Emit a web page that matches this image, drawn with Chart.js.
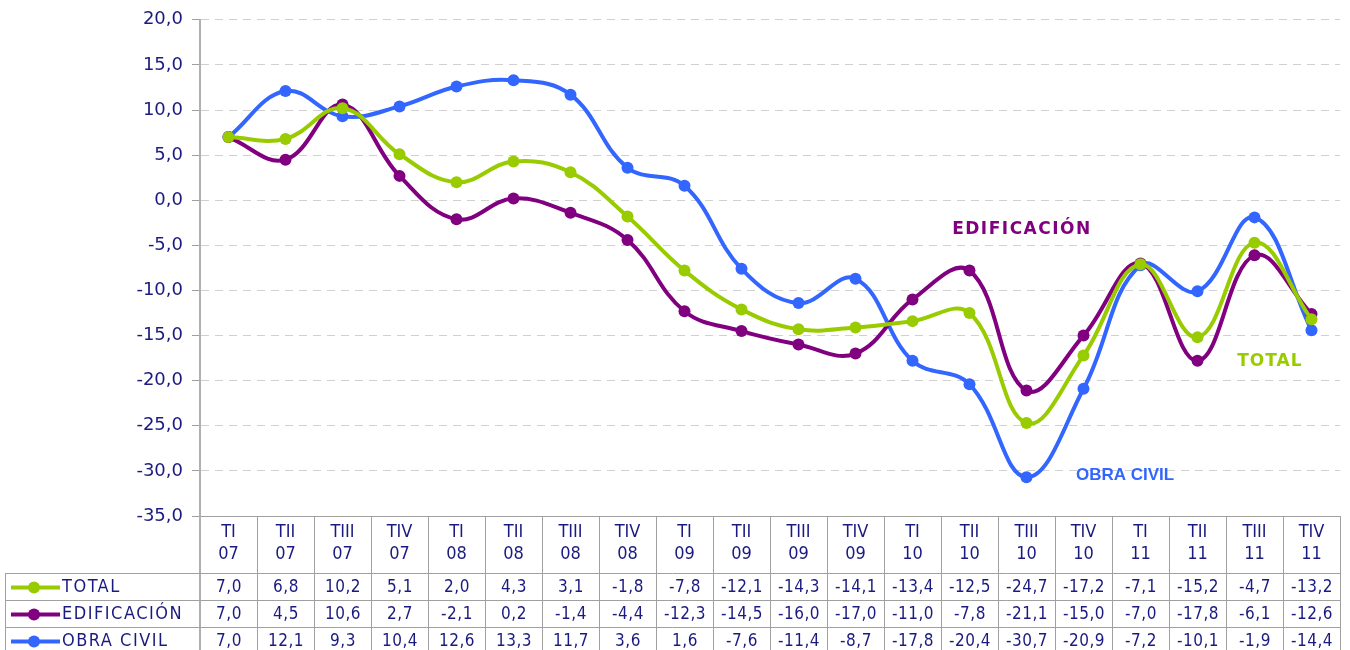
<!DOCTYPE html>
<html>
<head>
<meta charset="utf-8">
<script src="https://cdn.jsdelivr.net/npm/chart.js@4/dist/chart.umd.min.js"></script>
<style>
  html, body { margin: 0; padding: 0; background: #fff; }
  canvas { display: block; }
</style>
</head>
<body>
<canvas id="graficoLicitacion" width="1350" height="650"></canvas>
<script>
// datos (tasas de variación interanual)
var trimestres = [
  ['TI', '07'], ['TII', '07'], ['TIII', '07'], ['TIV', '07'],
  ['TI', '08'], ['TII', '08'], ['TIII', '08'], ['TIV', '08'],
  ['TI', '09'], ['TII', '09'], ['TIII', '09'], ['TIV', '09'],
  ['TI', '10'], ['TII', '10'], ['TIII', '10'], ['TIV', '10'],
  ['TI', '11'], ['TII', '11'], ['TIII', '11'], ['TIV', '11']
];
var total       = [7.0, 6.8, 10.2, 5.1, 2.0, 4.3, 3.1, -1.8, -7.8, -12.1, -14.3, -14.1, -13.4, -12.5, -24.7, -17.2, -7.1, -15.2, -4.7, -13.2];
var edificacion = [7.0, 4.5, 10.6, 2.7, -2.1, 0.2, -1.4, -4.4, -12.3, -14.5, -16.0, -17.0, -11.0, -7.8, -21.1, -15.0, -7.0, -17.8, -6.1, -12.6];
var obraCivil   = [7.0, 12.1, 9.3, 10.4, 12.6, 13.3, 11.7, 3.6, 1.6, -7.6, -11.4, -8.7, -17.8, -20.4, -30.7, -20.9, -7.2, -10.1, -1.9, -14.4];
var nombresSeries = ['TOTAL', 'EDIFICACIÓN', 'OBRA CIVIL'];
var coloresSeries = ['#99cc00', '#800080', '#3366ff'];
var ejeYMin = -35, ejeYMax = 20, ejeYPaso = 5;
// etiquetas sobre el gráfico: [texto, índice trimestre, valor]
var etiquetas = [
  ['EDIFICACIÓN', 13.92, -3.2],
  ['TOTAL', 18.27, -17.9],
  ['OBRA CIVIL', 15.73, -30.5]
];

var azulTexto = '#1a1a80';
var gris = '#a0a0a0';
var fuente = "'DejaVu Sans', Verdana, sans-serif";
var fuenteTabla = "'DejaVu Sans Condensed', 'DejaVu Sans', sans-serif";
var estiloEtiquetas = [
  ['bold 17px ' + fuente, '1.5px', '#800080'],
  ['bold 17px ' + fuente, '1px', '#99cc00'],
  ['bold 17px "Liberation Sans", Arial, sans-serif', '0px', '#3366ff']
];

function formatea(v) {
  return v.toFixed(1).replace('.', ',');
}

var tablaDatos = {
  id: 'tablaDatos',
  afterDraw: function (chart) {
    var ctx = chart.ctx;
    var x = chart.scales.x, y = chart.scales.y;
    var area = chart.chartArea;
    var ancho = (area.right - area.left) / trimestres.length;
    var filaAlto = 27;
    var arriba = x.bottom;
    var series = [total, edificacion, obraCivil];

    ctx.save();
    ctx.strokeStyle = gris;
    ctx.lineWidth = 1;
    // líneas verticales de la tabla
    for (var i = 1; i <= trimestres.length; i++) {
      var xc = Math.round(area.left + i * ancho) + 0.5;
      ctx.beginPath();
      ctx.moveTo(xc, area.bottom);
      ctx.lineTo(xc, chart.height);
      ctx.stroke();
    }
    ctx.beginPath();
    ctx.moveTo(5.5, arriba);
    ctx.lineTo(5.5, chart.height);
    ctx.stroke();
    ctx.strokeStyle = '#b0b0b0';
    ctx.lineWidth = 2;
    ctx.beginPath();
    ctx.moveTo(area.left, area.bottom);
    ctx.lineTo(area.left, chart.height);
    ctx.stroke();
    ctx.strokeStyle = gris;
    ctx.lineWidth = 1;
    // líneas horizontales
    for (var f = 0; f < 3; f++) {
      var yf = Math.round(arriba + f * filaAlto) + 0.5;
      ctx.beginPath();
      ctx.moveTo(5, yf);
      ctx.lineTo(area.right, yf);
      ctx.stroke();
    }

    // filas
    ctx.textBaseline = 'middle';
    for (var s = 0; s < series.length; s++) {
      var yc = arriba + s * filaAlto + filaAlto / 2 + 1;
      ctx.strokeStyle = coloresSeries[s];
      ctx.lineWidth = 4;
      ctx.beginPath();
      ctx.moveTo(11, yc);
      ctx.lineTo(60, yc);
      ctx.stroke();
      ctx.fillStyle = coloresSeries[s];
      ctx.beginPath();
      ctx.arc(34, yc, 6, 0, Math.PI * 2);
      ctx.fill();
      ctx.fillStyle = azulTexto;
      ctx.textAlign = 'left';
      ctx.font = '18px ' + fuenteTabla;
      ctx.letterSpacing = '1.5px';
      ctx.fillText(nombresSeries[s], 62, yc);
      ctx.textAlign = 'center';
      ctx.font = '17px ' + fuenteTabla;
      ctx.letterSpacing = '0.5px';
      for (var k = 0; k < series[s].length; k++) {
        ctx.fillText(formatea(series[s][k]), x.getPixelForValue(k) + 0.5, yc);
      }
    }

    // etiquetas de series
    ctx.textAlign = 'center';
    etiquetas.forEach(function (e, n) {
      ctx.font = estiloEtiquetas[n][0];
      ctx.letterSpacing = estiloEtiquetas[n][1];
      ctx.fillStyle = estiloEtiquetas[n][2];
      ctx.fillText(e[0], x.getPixelForValue(e[1]), y.getPixelForValue(e[2]));
    });
    ctx.restore();
  }
};

new Chart(document.getElementById('graficoLicitacion').getContext('2d'), {
  type: 'line',
  data: {
    labels: trimestres,
    datasets: [
      { label: nombresSeries[0], data: total },
      { label: nombresSeries[1], data: edificacion },
      { label: nombresSeries[2], data: obraCivil }
    ].map(function (d, i) {
      d.borderColor = coloresSeries[i];
      d.backgroundColor = coloresSeries[i];
      d.borderWidth = 4;
      d.pointRadius = 6;
      d.pointBorderWidth = 0;
      d.tension = 0.4;
      d.fill = false;
      return d;
    })
  },
  options: {
    responsive: false,
    animation: false,
    devicePixelRatio: 1,
    layout: {
      padding: { left: 0, right: 10, top: 17, bottom: 77 }
    },
    plugins: {
      legend: { display: false },
      tooltip: { enabled: false }
    },
    scales: {
      x: {
        offset: true,
        grid: { display: false, drawOnChartArea: false },
        border: { display: true, color: gris, width: 1 },
        ticks: {
          color: azulTexto,
          font: { family: fuenteTabla, size: 18, lineHeight: 1.22 },
          padding: -3,
          maxRotation: 0,
          autoSkip: false
        },
        afterFit: function (scale) { scale.height = 57; }
      },
      y: {
        min: ejeYMin,
        max: ejeYMax,
        ticks: {
          stepSize: ejeYPaso,
          color: azulTexto,
          font: { family: fuente, size: 18 },
          padding: 9,
          callback: function (v) { return formatea(v); }
        },
        grid: {
          color: '#d0d0d0',
          lineWidth: 1,
          tickBorderDash: [],
          tickColor: gris,
          tickLength: 8
        },
        border: { display: true, color: '#b0b0b0', width: 2, dash: [8, 6] },
        afterFit: function (scale) { scale.width = 200; }
      }
    }
  },
  plugins: [tablaDatos]
});
</script>
</body>
</html>
